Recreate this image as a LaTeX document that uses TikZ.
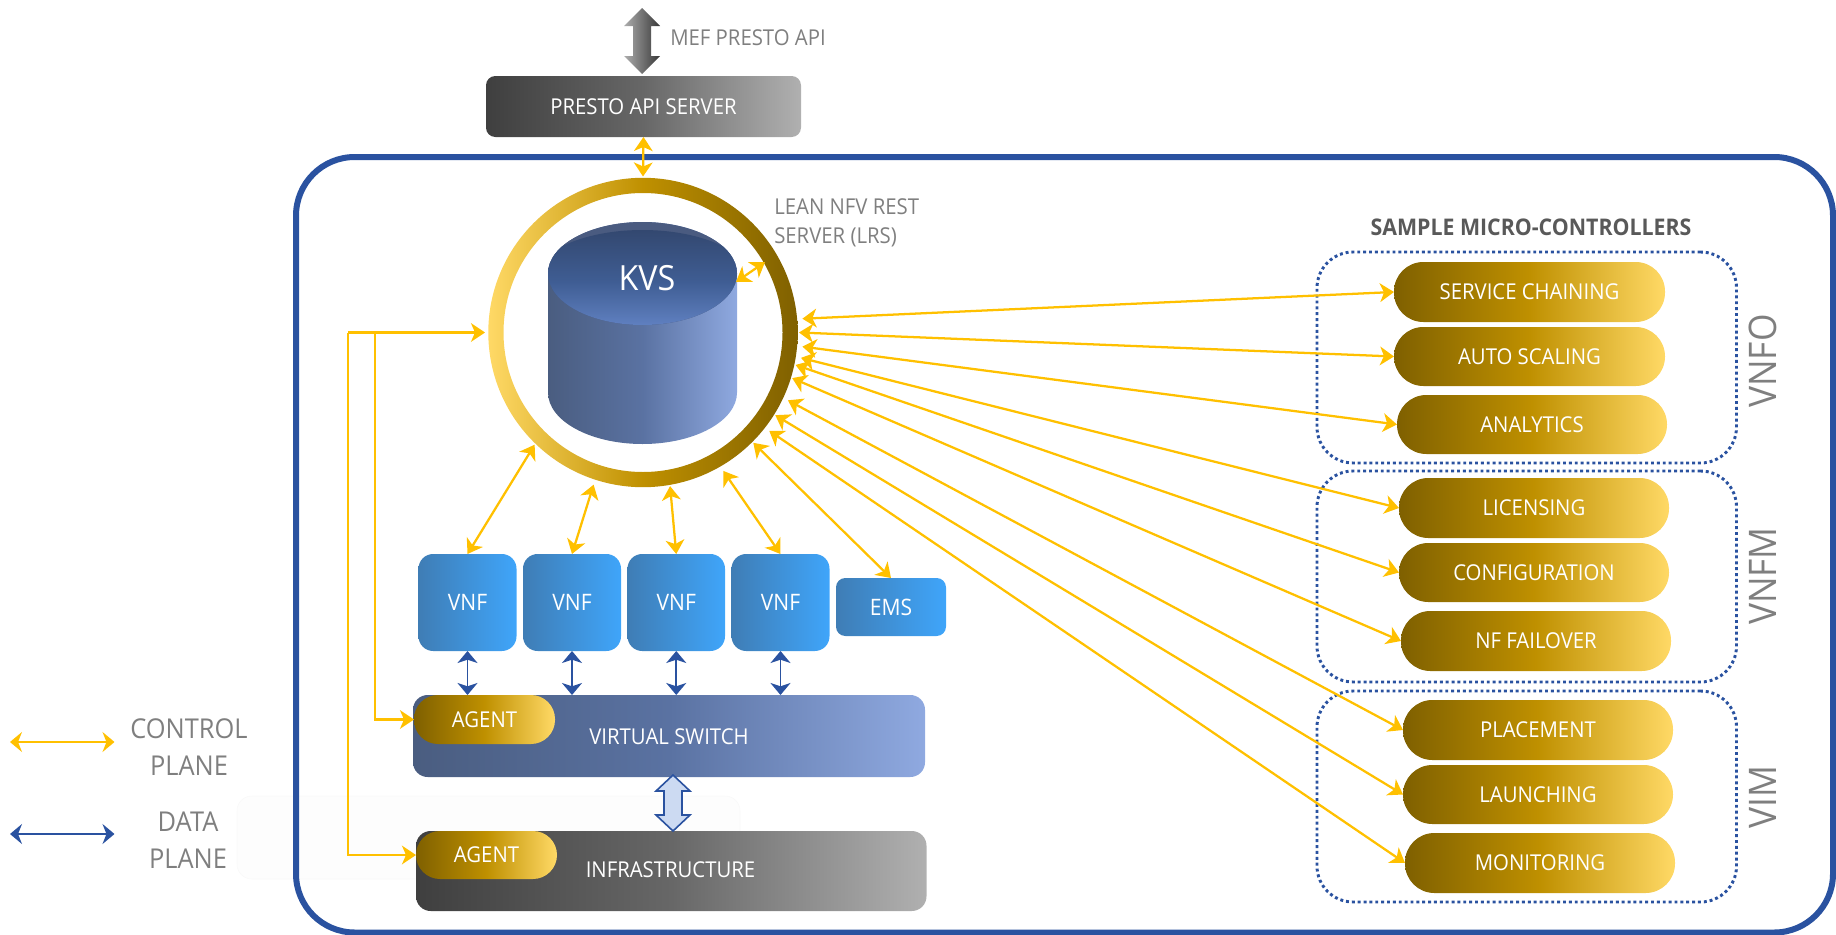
\documentclass[tikz,border=0pt]{standalone}
\usepackage{fontspec}
\setmainfont{Open Sans}[FakeStretch=0.93]
\usetikzlibrary{arrows.meta,calc}
\definecolor{blueline}{HTML}{2A52A0}
\definecolor{ctrl}{HTML}{FFC000}
\definecolor{txtgray}{HTML}{7F7F7F}
\definecolor{golddark}{HTML}{7F6000}
\definecolor{goldmid}{HTML}{BF9000}
\definecolor{goldlight}{HTML}{FFD966}
\definecolor{slate}{HTML}{4A5D80}
\definecolor{slatemid}{HTML}{5A72A2}
\definecolor{slatelight}{HTML}{8FA9E0}
\definecolor{vnfdark}{HTML}{3F7DB5}
\definecolor{vnflight}{HTML}{3FA5FA}
\definecolor{graydark}{HTML}{3F3F3F}
\definecolor{graymid}{HTML}{676767}
\definecolor{graylight}{HTML}{B0B0B0}
\definecolor{kvstop}{HTML}{334870}
\definecolor{kvsmid}{HTML}{3F5D93}
\definecolor{kvsbot}{HTML}{6586C8}
\definecolor{kvsrim}{HTML}{4A5B80}
\definecolor{blockfill}{HTML}{CCDAF2}
\newcommand{\nbox}[7]{\node[#6,inner sep=0pt,outer sep=0pt,minimum width={(#4-#2)*0.75pt},minimum height={(#5-#3)*0.75pt}] (#1) at ({(#2+#4)/2},{(#3+#5)/2}) {#7};}
\tikzset{
  x=0.75pt,y=-0.75pt,
  pill/.style={left color=golddark,right color=goldlight,middle color=goldmid,rounded corners=22pt,text=white,font=\fontsize{16.4}{19}\selectfont},
  agentpill/.style={left color=golddark,right color=goldlight,middle color=goldmid,rounded corners=18pt,text=white,font=\fontsize{16.4}{19}\selectfont},
  vnfbox/.style={left color=vnfdark,right color=vnflight,rounded corners=11pt,text=white,font=\fontsize{17}{19}\selectfont},
  emsbox/.style={vnfbox,rounded corners=7pt},
  slatebox/.style={left color=slate,right color=slatelight,middle color=slatemid,rounded corners=11pt},
  darkbox/.style={left color=graydark,right color=graylight,middle color=graymid,rounded corners=#1},
  darkbox/.default=11pt,
  ctl/.style={draw=ctrl,line width=1.7pt,{Stealth[length=10.5pt,width=14pt,inset=3pt]}-{Stealth[length=10.5pt,width=14pt,inset=3pt]}},
  ctlone/.style={draw=ctrl,line width=1.7pt,-{Stealth[length=10.5pt,width=14pt,inset=3pt]}},
  gap/.style={shorten <=3pt},
  dat/.style={draw=blueline,line width=1.4pt,{Stealth[length=9pt,width=15pt,inset=2.5pt]}-{Stealth[length=9pt,width=15pt,inset=2.5pt]}},
  group/.style={draw=blueline,line width=2.2pt,dash pattern=on 2.2pt off 2.2pt,rounded corners=27pt},
  graytext/.style={text=txtgray,inner sep=0pt,font=\fontsize{16.4}{19}\selectfont},
  sidelabel/.style={text=txtgray,inner sep=0pt,rotate=90,font=\fontsize{28.5}{30}\selectfont},
  whitetext/.style={text=white,inner sep=0pt,font=\fontsize{16.4}{19}\selectfont},
}
\begin{document}
\begin{tikzpicture}
\useasboundingbox (0,0) rectangle (1836,935);
% faint panel
\nbox{faint}{237}{796}{740}{879}{draw=black!2.5,fill=black!0.7,rounded corners=11pt}{}
% outer frame
\nbox{frame}{296}{157}{1833}{932.5}{draw=blueline,line width=4.5pt,rounded corners=44pt}{}
% presto
\path[left color=black!32,right color=black!78,middle color=black!55]
  (624,26) -- (642,8) -- (660,26) -- (651,26) -- (651,56) -- (660,56) -- (642,74) -- (624,56) -- (633,56) -- (633,26) -- cycle;
\nbox{presto}{486}{76}{801}{137}{darkbox=7pt,whitetext}{PRESTO API SERVER}
\node[graytext,anchor=west] (mef) at (670,38) {MEF PRESTO API};
% ring
\node[circle,inner sep=0pt,outer sep=0pt,minimum size=234pt] (ring) at (643,332.5) {};
\path[even odd rule,left color=goldlight,right color=golddark,middle color=goldmid]
  (ring.center) circle[radius=154.7] (ring.center) circle[radius=139.5];
\node[graytext,anchor=west,align=left,font=\fontsize{16.4}{21.7}\selectfont] (lrs) at (774,222.5) {LEAN NFV REST\\SERVER (LRS)};
% cylinder
\path[left color=slate,right color=slatelight,middle color=slatemid] (548,273.5) -- (548,392.5)
  arc[start angle=180,end angle=360,x radius=94.5,y radius=-51.5] -- (737,273.5)
  arc[start angle=0,end angle=180,x radius=94.5,y radius=-51.5] -- cycle;
\path[fill=kvsrim] (642.5,273.5) ellipse[x radius=94.5,y radius=51.5];
\begin{scope}
\clip (642.5,273.5) ellipse[x radius=94.5,y radius=51.5];
\shade[top color=kvstop,bottom color=kvsbot,middle color=kvsmid] (642.5,281.5) ellipse[x radius=110,y radius=51.5];
\end{scope}
\node[text=white,inner sep=0pt,font=\fontsize{26}{30}\selectfont] (kvs) at (647,278) {KVS};
\coordinate (kvsport) at (736,282);
\coordinate (ringinner) at (765,262);
\draw[ctl] (kvsport) -- (ringinner);
% groups
\nbox{vnfo}{1317}{252}{1736.5}{463}{group}{}
\nbox{vnfm}{1317}{471}{1736.5}{682}{group}{}
\nbox{vim}{1317}{691}{1736.5}{902}{group}{}
\node[text=black!65,inner sep=0pt,font=\bfseries\fontsize{17.2}{20}\selectfont] (sample) at (1531,227) {SAMPLE MICRO-CONTROLLERS};
\node[sidelabel] (lvnfo) at (1763,361) {VNFO};
\node[sidelabel] (lvnfm) at (1763,576) {VNFM};
\node[sidelabel] (lvim) at (1763,797) {VIM};
% pills
\nbox{p1}{1394}{262}{1665}{322}{pill}{SERVICE CHAINING}
\nbox{p2}{1394}{327}{1665}{386}{pill}{AUTO SCALING}
\nbox{p3}{1397}{395}{1667}{454}{pill}{ANALYTICS}
\nbox{p4}{1399}{478}{1669}{538}{pill}{LICENSING}
\nbox{p5}{1399}{543}{1669}{602}{pill}{CONFIGURATION}
\nbox{p6}{1401}{611}{1671}{671}{pill}{NF FAILOVER}
\nbox{p7}{1403}{700}{1673}{760}{pill}{PLACEMENT}
\nbox{p8}{1403}{765}{1673}{824}{pill}{LAUNCHING}
\nbox{p9}{1405}{833}{1675}{893}{pill}{MONITORING}
% vnfs
\nbox{v1}{418.5}{554}{516.5}{651}{vnfbox}{VNF}
\nbox{v2}{523}{554}{621}{651}{vnfbox}{VNF}
\nbox{v3}{627.5}{554}{725}{651}{vnfbox}{VNF}
\nbox{v4}{731.5}{554}{829.5}{651}{vnfbox}{VNF}
\nbox{ems}{836}{578}{946}{636}{emsbox}{EMS}
% switch & infra
\nbox{vsw}{413}{695}{925}{777}{slatebox}{}
\nbox{ag1}{414}{695}{555}{744}{agentpill}{AGENT}
\node[whitetext] (vswt) at (669,737) {VIRTUAL SWITCH};
\nbox{infra}{416}{831}{926.5}{911}{darkbox}{}
\nbox{ag2}{416}{831}{557}{879}{agentpill}{AGENT}
\node[whitetext] (infrat) at (670.5,870) {INFRASTRUCTURE};
% block arrow
\path[draw=blueline,line width=1.2pt,fill=blockfill]
  (673,775) -- (690,791) -- (682,791) -- (682,815) -- (690,815) -- (673,831) -- (656,815) -- (664,815) -- (664,791) -- (656,791) -- cycle;
% control connectors
\draw[ctl] (presto.south) -- (ring.north);
\draw[ctl,gap] (ring.5.4) -- (p1.west);
\draw[ctl] (ring.-0.4) -- (p2.west);
\draw[ctl,gap] (ring.-5.7) -- (p3.west);
\draw[ctl,gap] (ring.-9.3) -- (p4.west);
\draw[ctl] (ring.-12.9) -- (p5.west);
\draw[ctl] (ring.-17.7) -- (p6.west);
\draw[ctl,gap] (ring.-25) -- (p7.west);
\draw[ctl] (ring.-32) -- (p8.west);
\draw[ctl,gap] (ring.-38.4) -- (p9.west);
\draw[ctl] (ring.-45) -- (ems.north);
\draw[ctl,gap] (ring.-60.4) -- (v4.north);
\draw[ctl] (ring.-80.5) -- (v3.north);
\draw[ctl,gap] (ring.-108) -- (v2.north);
\draw[ctl] (ring.-134) -- (v1.north);
\coordinate (busA) at (348,332.5);
\coordinate (busB) at (375,332.5);
\draw[ctlone,shorten >=1.5pt] (busA) -- (ring.west);
\draw[ctlone] (busA) |- (ag2.west);
\draw[ctlone] (busB) |- (ag1.west);
% data connectors
\draw[dat] (v1.south) -- (v1.south |- vsw.north);
\draw[dat] (v2.south) -- (v2.south |- vsw.north);
\draw[dat] (v3.south) -- (v3.south |- vsw.north);
\draw[dat] (v4.south) -- (v4.south |- vsw.north);
% legend
\coordinate (c1) at (10,742); \coordinate (c2) at (114.5,742);
\coordinate (d1) at (10,834); \coordinate (d2) at (114.5,834);
\draw[draw=ctrl,line width=1.8pt,{Stealth[length=9pt,width=15pt,inset=3pt]}-{Stealth[length=9pt,width=15pt,inset=3pt]}] (c1) -- (c2);
\draw[draw=blueline,line width=1.8pt,{Stealth[length=9pt,width=15pt,inset=3pt]}-{Stealth[length=9pt,width=15pt,inset=3pt]}] (d1) -- (d2);
\node[graytext,align=center,font=\fontsize{20.5}{27.8}\selectfont] (lc) at (189,747.5) {CONTROL\\PLANE};
\node[graytext,align=center,font=\fontsize{20.5}{27.8}\selectfont] (ld) at (188,840.5) {DATA\\PLANE};
\end{tikzpicture}
\end{document}
